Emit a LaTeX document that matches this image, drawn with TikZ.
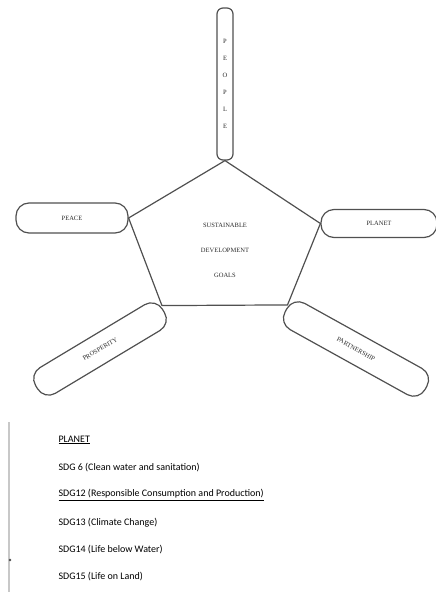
\documentclass[tikz,border=0pt]{standalone}
\usepackage{fontspec}
\setmainfont{Liberation Serif}
\newfontfamily\listfont{Carlito}
\usepackage{tikz}
\usetikzlibrary{positioning, calc}
\definecolor{LineGray}{HTML}{505050}
\definecolor{TextGray}{HTML}{2A2A2A}
\definecolor{RuleGray}{HTML}{C8C8C8}

\begin{document}
\begin{tikzpicture}[
        x=1pt, y=-1pt, font=\small,
        pill/.style={draw=LineGray, line width=1.2pt, rounded corners=13pt, inner sep=0pt,
                     minimum height=28pt, font=\fontsize{6.5}{8}\selectfont, text=TextGray},
        edge/.style={LineGray, line width=1.2pt},
        core/.style={align=center, font=\fontsize{6.5}{25}\selectfont, text=TextGray},
        sdg/.style={anchor=west, font=\listfont\fontsize{10}{12}\selectfont, text=black},
      ]
        \useasboundingbox (0,0) rectangle (436,592);
        % --- five pillars ---
        \node[pill, rounded corners=6pt, minimum width=16pt, minimum height=152pt, align=center,
              font=\fontsize{6.5}{17}\selectfont] (people) at (225,84) {P\\E\\O\\P\\L\\E};
        \node[pill, minimum width=112pt, minimum height=30pt] (peace) at (72,218) {PEACE};
        \node[pill, minimum width=116pt] (planet) at (379,223.5) {PLANET};
        \node[pill, minimum width=148pt, minimum height=30pt, rotate=31] (prosperity) at (100,349) {PROSPERITY};
        \node[pill, minimum width=160pt, minimum height=30pt, rotate=-29] (partnership) at (356,349) {PARTNERSHIP};
        % --- pentagon ---
        \coordinate (top) at (people.south);
        \coordinate (bl) at ($(prosperity.east)+(-2,-5)$);
        \coordinate (br) at ($(partnership.west)+(2,-5)$);
        \draw[edge, line join=round] (top) -- (planet.west) -- (br) -- (bl) -- (peace.east) -- cycle;
        \node[core] (goals) at (225,250) {SUSTAINABLE\\DEVELOPMENT\\GOALS};
        % --- planet list ---
        \draw[RuleGray, line width=1.2pt] (9,422) -- (9,592);
        \fill[black!70] (10,560) circle (1.3);
        \node[sdg] (head) at (55,440) {\underline{PLANET}};
        \foreach \i/\y/\txt in {1/468/{SDG 6 (Clean water and sanitation)},
                                2/495/{\underline{SDG12 (Responsible Consumption and Production)}},
                                3/523/{SDG13 (Climate Change)},
                                4/550/{SDG14 (Life below Water)},
                                5/577/{SDG15 (Life on Land)}}{
          \node[sdg] (sdg\i) at (55,\y) {\txt};
        }
      \end{tikzpicture}
\end{document}
